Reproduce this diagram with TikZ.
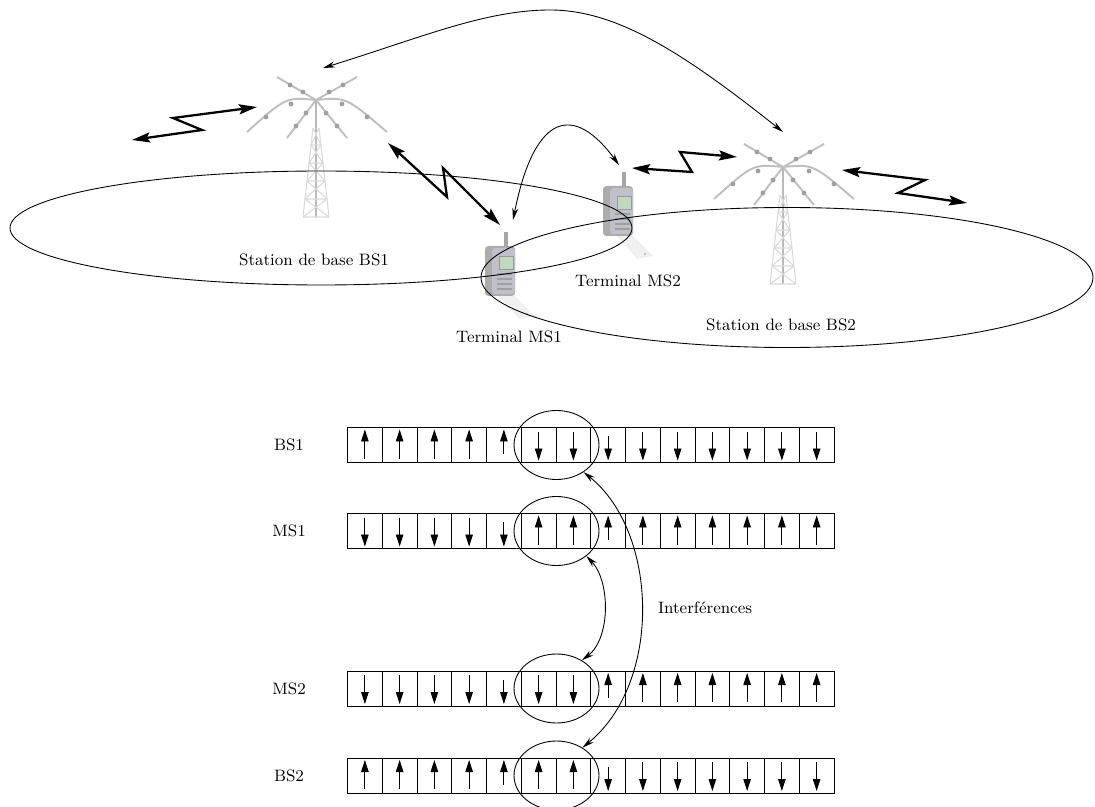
\documentclass[tikz,border=0pt]{standalone}
\usepackage{tikz}
\usetikzlibrary{arrows.meta,shapes.geometric}

\tikzset{
    radio/.style={line width=1.3pt, {Stealth[length=3.6mm,width=2mm,inset=0.6mm]}-{Stealth[length=3.6mm,width=2mm,inset=0.6mm]}},
    link/.style={line width=0.5pt, {Stealth[length=2.4mm,width=1.2mm]}-{Stealth[length=2.4mm,width=1.2mm]}},
    slot/.style={line width=0.5pt, -{Triangle[length=2.4mm,width=1.5mm]}},
    zone/.style={draw, ellipse, line width=0.5pt, minimum width=1.7cm, minimum height=1.38cm, inner sep=0pt},
    lbl/.style={inner sep=0pt},
    tower/.pic={
        \draw[gray!50, line width=1.1pt] (0,0) -- (-39,-23) (0,0) -- (41,-23) (0,0) -- (-29,38) (0,0) -- (31,38)
            (0,0) .. controls (-30,-3) .. (-69,32) (0,0) .. controls (30,-3) .. (71,32);
        \foreach \p in {(-13,-8),(-26,-15),(13,-8),(27,-15),(-10,13),(-20,26),(10,13),(21,26),(-25,4),(-50,17),(26,4),(51,17)}
            \fill[gray!75] \p circle (2.4);
        \draw[gray!55, line width=0.8pt] (0,0) -- (0,117);
        \draw[gray!30, line width=0.6pt] (-3,28) -- (-13,117) (3,28) -- (13,117);
        \foreach \a/\b in {28/45,45/63,63/81,81/99,99/117} {
            \pgfmathsetmacro\wa{3+10*(\a-28)/89}
            \pgfmathsetmacro\wb{3+10*(\b-28)/89}
            \draw[gray!30, line width=0.6pt] (-\wa,\a) -- (\wb,\b) (\wa,\a) -- (-\wb,\b) (-\wb,\b) -- (\wb,\b);
        }
    },
    handset/.pic={
        \fill[gray!12] (-8,62) -- (8,62) -- (30,84) -- (14,87) -- cycle;
        \fill[gray!60] (22,82) circle (1.2);
        \fill[gray!65, rounded corners=2] (-20,14) rectangle (10,64);
        \fill[blue!10!gray!45, rounded corners=2] (-13,16) rectangle (10,62);
        \fill[green!25!gray!40] (-6,24) rectangle (8,37);
        \draw[gray!80, line width=0.3pt] (-6,24) rectangle (8,37);
        \foreach \k in {42,47,52,57}
            \draw[gray!75, line width=0.8pt] (-8,\k) -- (7,\k);
        \fill[gray!70] (-1,0) rectangle (3,15);
    }
}

\begin{document}
\begin{tikzpicture}[x=0.02cm, y=-0.02cm, font=\fontsize{9.4}{11}\selectfont]
    \useasboundingbox (0,0) rectangle (1095,807);

    \coordinate (BS1) at (316,100);
    \coordinate (BS2) at (783,167);
    \coordinate (MS1) at (505,232);
    \coordinate (MS2) at (623,172);

    \pic at (BS1) {tower};
    \pic at (BS2) {tower};
    \pic at (MS1) {handset};
    \pic at (MS2) {handset};

    \draw[line width=0.5pt] (321,228) ellipse [x radius=311, y radius=57];
    \draw[line width=0.5pt] (787,277.5) ellipse [x radius=306, y radius=70];

    \node[lbl] (tBS1) at (314,260) {Station de base BS1};
    \node[lbl] (tMS1) at (509,337) {Terminal MS1};
    \node[lbl] (tMS2) at (628,281) {Terminal MS2};
    \node[lbl] (tBS2) at (781,325) {Station de base BS2};

    % liaisons radio
    \coordinate (z1a) at (132,140);  \coordinate (z1b) at (257,107);
    \coordinate (z2a) at (388,143);  \coordinate (z2b) at (500,225);
    \coordinate (z3a) at (632,168);  \coordinate (z3b) at (737,157);
    \coordinate (z4a) at (842,170);  \coordinate (z4b) at (967,203);
    \draw[radio] (z1a) -- (202,130) -- (173,118) -- (z1b);
    \draw[radio] (z2a) -- (447,197) -- (443,168) -- (z2b);
    \draw[radio] (z3a) -- (692,172) -- (680,152) -- (z3b);
    \draw[radio] (z4a) -- (925,180) -- (898,193) -- (z4b);

    \coordinate (a1) at (323,68);  \coordinate (a2) at (783,132);
    \coordinate (b1) at (513,220); \coordinate (b2) at (619,165);
    \draw[link] (a1) .. controls (420,38) and (485,10) .. (550,10) .. controls (615,10) and (680,50) .. (a2);
    \draw[link] (b1) .. controls (535,110) and (575,105) .. (b2);

    % trames TDD
    \foreach \name/\yy/\k/\s in {BS1/445/5/1, MS1/531/5/0, MS2/688.5/7/0, BS2/775.5/7/1} {
        \node[lbl] (r\name) at (289,\yy) {\name};
        \foreach \i in {1,...,14} {
            \pgfmathsetmacro\xl{347.5+(\i-1)*34.75}
            \pgfmathsetmacro\xc{\xl+17.375}
            \pgfmathsetmacro\hl{(\i==5||\i==8) ? 9 : 13.5}
            \pgfmathtruncatemacro\up{(\i<=\k) ? \s : 1-\s}
            \draw[line width=0.5pt] (\xl,\yy-17.5) rectangle ++(34.75,35);
            \ifnum\up=1
                \draw[slot] (\xc,\yy+\hl) -- (\xc,\yy-15.5);
            \else
                \draw[slot] (\xc,\yy-\hl) -- (\xc,\yy+15.5);
            \fi
        }
        \node[zone] (e\name) at (556.5,\yy) {};
    }

    \draw[link] (eBS1.-45) .. controls +(75,60) and +(80,-65) .. (eBS2.47);
    \draw[link] (eMS1.-40) .. controls +(24,25) and +(29,-22) .. (eMS2.48);
    \node[lbl] (intf) at (705,608) {Interférences};
\end{tikzpicture}
\end{document}
